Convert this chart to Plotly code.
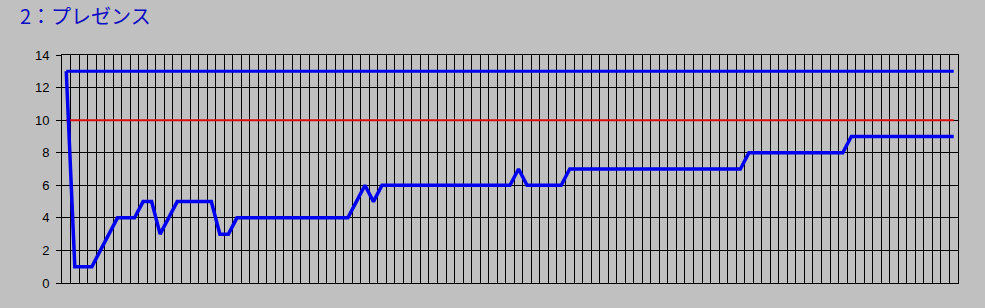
import plotly.graph_objects as go

# ---- data ----
days = list(range(1, 106))
presence = [13, 1, 1, 1, 2, 3, 4, 4, 4, 5, 5, 3, 4, 5, 5, 5, 5, 5, 3, 3,
            4, 4, 4, 4, 4, 4, 4, 4, 4, 4, 4, 4, 4, 4, 5, 6, 5, 6, 6, 6,
            6, 6, 6, 6, 6, 6, 6, 6, 6, 6, 6, 6, 6, 7, 6, 6, 6, 6, 6, 7,
            7, 7, 7, 7, 7, 7, 7, 7, 7, 7, 7, 7, 7, 7, 7, 7, 7, 7, 7, 7,
            8, 8, 8, 8, 8, 8, 8, 8, 8, 8, 8, 8, 9, 9, 9, 9, 9, 9, 9, 9,
            9, 9, 9, 9, 9]
upper_values = [13, 13, 13, 13, 13, 13, 13, 13, 13, 13, 13, 13, 13, 13, 13,
                13, 13, 13, 13, 13, 13, 13, 13, 13, 13, 13, 13, 13, 13, 13,
                13, 13, 13, 13, 13, 13, 13, 13, 13, 13, 13, 13, 13, 13, 13,
                13, 13, 13, 13, 13, 13, 13, 13, 13, 13, 13, 13, 13, 13, 13,
                13, 13, 13, 13, 13, 13, 13, 13, 13, 13, 13, 13, 13, 13, 13,
                13, 13, 13, 13, 13, 13, 13, 13, 13, 13, 13, 13, 13, 13, 13,
                13, 13, 13, 13, 13, 13, 13, 13, 13, 13, 13, 13, 13, 13, 13]
target_values = [10, 10, 10, 10, 10, 10, 10, 10, 10, 10, 10, 10, 10, 10, 10,
                 10, 10, 10, 10, 10, 10, 10, 10, 10, 10, 10, 10, 10, 10, 10,
                 10, 10, 10, 10, 10, 10, 10, 10, 10, 10, 10, 10, 10, 10, 10,
                 10, 10, 10, 10, 10, 10, 10, 10, 10, 10, 10, 10, 10, 10, 10,
                 10, 10, 10, 10, 10, 10, 10, 10, 10, 10, 10, 10, 10, 10, 10,
                 10, 10, 10, 10, 10, 10, 10, 10, 10, 10, 10, 10, 10, 10, 10,
                 10, 10, 10, 10, 10, 10, 10, 10, 10, 10, 10, 10, 10, 10, 10]
y_ticks = [0, 2, 4, 6, 8, 10, 12, 14]
title_text = "2：プレゼンス"

n = len(days)
boundaries = [days[0] - 0.5 + k for k in range(n + 1)]

fig = go.Figure()
fig.add_trace(go.Scatter(x=days, y=target_values, mode="lines",
                         line=dict(color="#d81010", width=2),
                         hoverinfo="skip", showlegend=False))
fig.add_trace(go.Scatter(x=days, y=upper_values, mode="lines",
                         line=dict(color="#0000f0", width=3),
                         hoverinfo="skip", showlegend=False))
fig.add_trace(go.Scatter(x=days, y=presence, mode="lines",
                         line=dict(color="#0000f0", width=3.5),
                         showlegend=False))

fig.update_layout(
    width=985, height=308,
    margin=dict(l=62, r=27, t=55, b=25),
    paper_bgcolor="#c0c0c0", plot_bgcolor="#c0c0c0",
    title=dict(text=title_text, x=20 / 985, xref="container",
               y=1 - 17 / 308, yref="container",
               xanchor="left", yanchor="middle",
               pad=dict(l=0, t=0, b=0, r=0),
               font=dict(family="Noto Sans CJK JP", size=20, color="#0c0cc4")),
    xaxis=dict(range=[boundaries[0], boundaries[-1]],
               tickmode="array", tickvals=boundaries, showticklabels=False,
               ticks="", showgrid=True, gridcolor="black", gridwidth=1,
               showline=True, linecolor="black", linewidth=1, mirror=True,
               zeroline=False, fixedrange=True),
    yaxis=dict(range=[0, 14], tickmode="array", tickvals=y_ticks,
               ticks="outside", ticklen=5, tickcolor="black", tickwidth=1,
               ticklabelstandoff=4,
               showgrid=True, gridcolor="black", gridwidth=1,
               showline=True, linecolor="black", linewidth=1, mirror=True,
               zeroline=False,
               tickfont=dict(family="Liberation Sans", size=13, color="black")),
)

fig.write_html("out.html")
